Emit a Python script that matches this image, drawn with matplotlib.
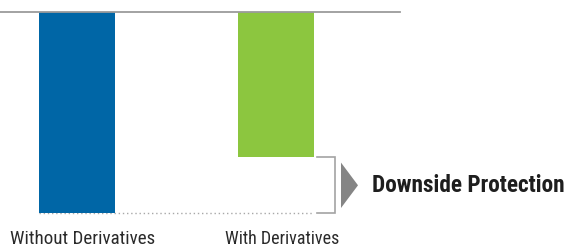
import matplotlib
matplotlib.use("Agg")
import matplotlib.pyplot as plt
from matplotlib import font_manager
from matplotlib.patches import Polygon

# ---- data ----
categories = ["Without Derivatives", "With Derivatives"]
values = [-100, -72]          # loss depth (bars hang from the top line)
bar_colors = ["#0066a6", "#8cc63f"]
annotation = "Downside Protection"

W, H = 568, 248
DPI = 100

def pick_font(cands):
    for c in cands:
        try:
            font_manager.findfont(font_manager.FontProperties(family=c), fallback_to_default=False)
            return c
        except Exception:
            continue
    return "DejaVu Sans"

narrow = pick_font(["Liberation Sans Narrow", "DejaVu Sans Condensed", "Roboto Condensed",
                    "Open Sans Condensed", "Roboto", "DejaVu Sans"])

fig = plt.figure(figsize=(W / DPI, H / DPI), dpi=DPI)
# axes spans pixels x 0..400, y 11.5..213
ax = fig.add_axes([0, (H - 213) / H, 400 / W, (213 - 11.5) / H])

px_per_unit = 199.0
x0_px = 77.0
ax.set_xlim(-x0_px / px_per_unit, (400 - x0_px) / px_per_unit)
ax.set_ylim(-100, 0)
bw = 76 / px_per_unit

xs = list(range(len(categories)))
ax.bar(xs, values, width=bw, color=bar_colors, align="center", zorder=2)

for s in ax.spines.values():
    s.set_visible(False)
ax.set_xticks([])
ax.set_yticks([])
ax.patch.set_alpha(0)

# top line
ax.axhline(0, color="#9b9b9b", lw=1.3, zorder=3, clip_on=False)

# dotted baseline from blue left edge to green right edge
left = xs[0] - bw / 2
right = xs[1] + bw / 2
ax.plot([left, right], [min(values), min(values)], color="#a8a8a8", lw=1.0,
        ls=(0, (1, 2.0)), clip_on=False, zorder=1)

# bracket
gap = 2.5 / px_per_unit
bx = right + 21 / px_per_unit
ax.plot([right + gap, bx, bx, right + gap], [values[1], values[1], min(values), min(values)],
        color="#a3a3a3", lw=1.2, clip_on=False, solid_joinstyle="miter")

# triangle arrow
ypx = 201.5 / 100.0
tx0 = bx + 6 / px_per_unit
tx1 = bx + 23 / px_per_unit
ty_top = values[1] - 6 / ypx
ty_bot = min(values) + 5 / ypx
tri = Polygon([[tx0, ty_top], [tx0, ty_bot], [tx1, (ty_top + ty_bot) / 2]],
              closed=True, color="#858585", clip_on=False, lw=0)
ax.add_patch(tri)

# texts
r = fig.canvas.get_renderer()

def fit(t, target_w, base):
    t.set_fontsize(base)
    bb = t.get_window_extent(renderer=r)
    t.set_fontsize(base * target_w / bb.width)

ann = fig.text(372.5 / W, 1 - 191.7 / H, annotation, family=[narrow, "DejaVu Sans"],
               fontweight="bold", color="#1e1e1e", ha="left", va="baseline")
fit(ann, 192, 20)

label_offsets = [5.5, 6]
label_widths = [145, 114]
for i, (x, lab) in enumerate(zip(xs, categories)):
    xpix = ax.transData.transform((x, 0))[0] + label_offsets[i]
    t = fig.text(xpix / W, 1 - 244.5 / H, lab, family=[narrow, "DejaVu Sans"],
                 color="#2a2a2a", ha="center", va="baseline")
    fit(t, label_widths[i], 12)

fig.savefig("out.png", dpi=DPI)
